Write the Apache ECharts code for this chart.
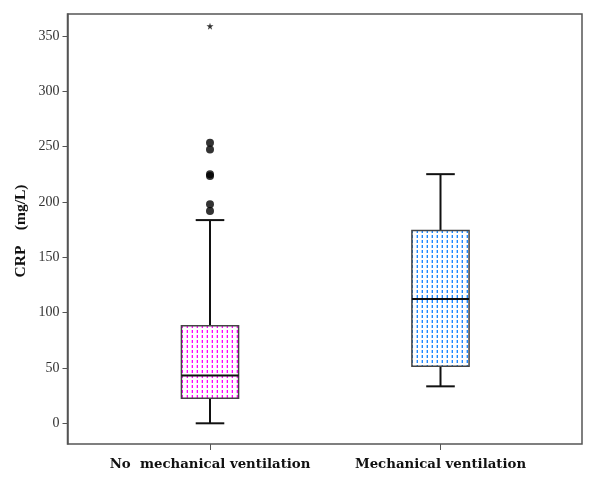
<!DOCTYPE html>
<html>
<head>
<meta charset="utf-8">
<script src="https://cdn.jsdelivr.net/npm/echarts@6/dist/echarts.min.js"></script>
<style>html,body{margin:0;padding:0;background:#fff}#c{width:600px;height:487px}</style>
</head>
<body>
<div id="c"></div>
<script>
// ---- data ----
var categories = ['No  mechanical ventilation', 'Mechanical ventilation'];
var whiskerLow = [0, 33.4];
var q1Values = [22.6, 51.5];
var medianValues = [43.3, 112.2];
var q3Values = [88.1, 174.3];
var whiskerHigh = [183.6, 225.1];
var outlierValues = [253.4, 247.4, 225.0, 223.4, 197.8, 191.7]; // group 0
var extremeValues = [358.8]; // group 0, star
var yTicks = [0, 50, 100, 150, 200, 250, 300, 350];
var yMin = -18.7, yMax = 369.8;

function makePattern(main, light) {
  var c = document.createElement('canvas');
  c.width = 5; c.height = 5;
  var g = c.getContext('2d');
  g.fillStyle = '#ffffff'; g.fillRect(0, 0, 5, 5);
  g.fillStyle = light; g.fillRect(1, 0, 1, 3);
  g.fillStyle = main; g.fillRect(2, 0, 1, 3);
  return c;
}
var patterns = [makePattern('#ff00ff', '#ffb0ff'), makePattern('#1e88ff', '#a8d0ff')];

var boxData = categories.map(function (c, i) {
  return [i, whiskerLow[i], q1Values[i], medianValues[i], q3Values[i], whiskerHigh[i]];
});
var outlierData = outlierValues.map(function (v) { return [0, v]; });
var extremeData = extremeValues.map(function (v) { return [0, v]; });

function renderBox(params, api) {
  var x = api.value(0);
  var pLo = api.coord([x, api.value(1)]);
  var pQ1 = api.coord([x, api.value(2)]);
  var pMed = api.coord([x, api.value(3)]);
  var pQ3 = api.coord([x, api.value(4)]);
  var pHi = api.coord([x, api.value(5)]);
  var band = api.size([1, 0])[0];
  var bw = band * 0.248;
  var cw = bw / 2;
  var cx = pMed[0];
  var idx = params.dataIndex;
  var line = { stroke: '#111', lineWidth: 2 };
  return {
    type: 'group',
    children: [
      { type: 'line', shape: { x1: cx, y1: pQ3[1], x2: cx, y2: pHi[1] }, style: line },
      { type: 'line', shape: { x1: cx, y1: pQ1[1], x2: cx, y2: pLo[1] }, style: line },
      { type: 'line', shape: { x1: cx - cw / 2, y1: pHi[1], x2: cx + cw / 2, y2: pHi[1] }, style: line },
      { type: 'line', shape: { x1: cx - cw / 2, y1: pLo[1], x2: cx + cw / 2, y2: pLo[1] }, style: line },
      { type: 'rect', shape: { x: cx - bw / 2, y: pQ3[1], width: bw, height: pQ1[1] - pQ3[1] },
        style: { fill: { image: patterns[idx], repeat: 'repeat' }, stroke: '#444', lineWidth: 1.5 } },
      { type: 'line', shape: { x1: cx - bw / 2, y1: pMed[1], x2: cx + bw / 2, y2: pMed[1] }, style: line }
    ]
  };
}

var chart = echarts.init(document.getElementById('c'), null, { renderer: 'canvas' });
var serif = '"Liberation Serif", "DejaVu Serif", serif';
var wideSerif = '"DejaVu Serif", "Liberation Serif", serif';
chart.setOption({
  animation: false,
  backgroundColor: '#fff',
  grid: [
    { left: 94.75, right: 44.25, top: 14, bottom: 43 },
    { left: 67.5, right: 18, top: 14, bottom: 43, show: true, borderColor: '#555', borderWidth: 1.5, backgroundColor: 'transparent', z: 0 }
  ],
  xAxis: [
    { type: 'category', gridIndex: 0, data: categories, boundaryGap: true,
      axisLine: { show: false, onZero: false },
      axisTick: { show: true, alignWithLabel: true, length: 6, lineStyle: { color: '#555', width: 1 } },
      axisLabel: { margin: 14, fontFamily: wideSerif, fontWeight: 'bold', fontSize: 13.3, color: '#111', interval: 0 },
      splitLine: { show: false } },
    { type: 'value', gridIndex: 1, show: false, min: 0, max: 1 }
  ],
  yAxis: [
    { type: 'value', gridIndex: 0, show: false, min: yMin, max: yMax, splitLine: { show: false } },
    { type: 'value', gridIndex: 1, min: yMin, max: yMax,
      axisLine: { show: true, onZero: false, lineStyle: { color: '#555', width: 1.5 } },
      axisTick: { show: true, length: 5, customValues: yTicks, lineStyle: { color: '#555' } },
      axisLabel: { margin: 8, customValues: yTicks, fontFamily: serif, fontSize: 14, color: '#333' },
      splitLine: { show: false } }
  ],
  graphic: [
    { type: 'text', x: 21, y: 231, rotation: Math.PI / 2,
      style: { text: 'CRP    (mg/L)', font: 'bold 15.5px ' + serif, fill: '#111', textAlign: 'center', textVerticalAlign: 'middle' } }
  ],
  series: [
    { type: 'custom', xAxisIndex: 0, yAxisIndex: 0, renderItem: renderBox, data: boxData, z: 3 },
    { type: 'scatter', xAxisIndex: 0, yAxisIndex: 0, data: outlierData, symbol: 'circle', symbolSize: 8,
      itemStyle: { color: '#000' }, z: 4 },
    { type: 'scatter', xAxisIndex: 0, yAxisIndex: 0, data: extremeData,
      symbol: 'path://M50,0 L61,35 L98,35 L68,57 L79,91 L50,70 L21,91 L32,57 L2,35 L39,35 Z', symbolSize: 7,
      itemStyle: { color: '#000' }, z: 4 }
  ]
});
</script>
</body>
</html>
